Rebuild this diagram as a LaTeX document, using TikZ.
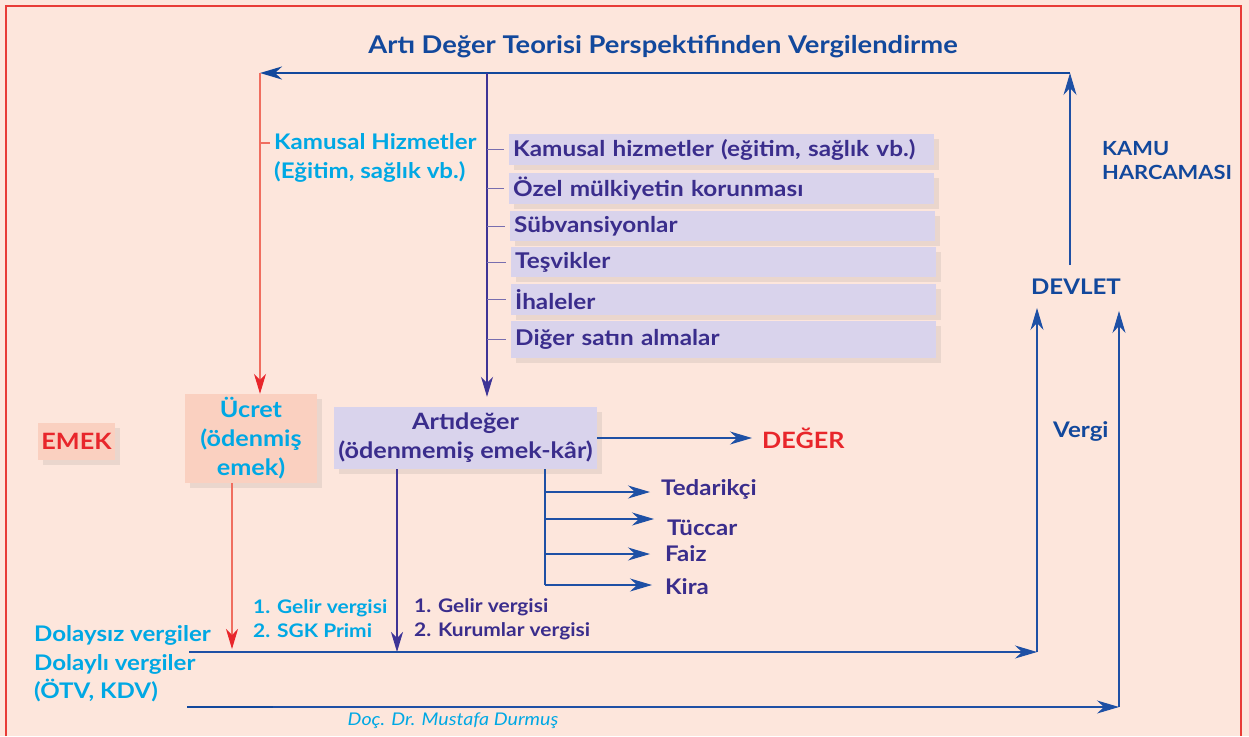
\documentclass[tikz,border=0pt]{standalone}
\usepackage{fontspec}
\setmainfont{Lato}[FakeStretch=1.12]
\usetikzlibrary{arrows.meta,shadows,calc}
\definecolor{bg}{RGB}{253,230,220}
\definecolor{frame}{RGB}{232,60,55}
\definecolor{dblue}{RGB}{18,72,156}
\definecolor{lblue}{RGB}{30,80,165}
\definecolor{cyanT}{RGB}{0,168,228}
\definecolor{purT}{RGB}{58,45,140}
\definecolor{purL}{RGB}{62,52,150}
\definecolor{tickc}{RGB}{120,110,175}
\definecolor{redT}{RGB}{232,38,43}
\definecolor{redL}{RGB}{240,110,95}
\definecolor{lav}{RGB}{217,211,236}
\definecolor{peachbox}{RGB}{250,208,192}
\begin{document}
\begin{tikzpicture}[x=1pt,y=-1pt,
  tip/.style={-{Stealth[length=22pt,width=13pt,inset=7pt]}},
  bthick/.style={draw=dblue,line width=2.4pt},
  bline/.style={draw=lblue,line width=1.1pt},
  rline/.style={draw=redL,line width=1.1pt},
  rtip/.style={-{Stealth[length=20pt,width=12pt,inset=6pt,color=redT]}},
  pline/.style={draw=purL,line width=1.1pt},
  tickline/.style={draw=tickc,line width=1pt},
  shad/.style={drop shadow={shadow xshift=5pt,shadow yshift=-5pt,opacity=0.10,fill=black!70}},
  lbl/.style={inner sep=0pt,align=left},
  f17/.style={font=\fontsize{18.7}{24}\selectfont\bfseries},
  f20/.style={font=\fontsize{21.5}{29}\selectfont\bfseries},
  f21/.style={font=\fontsize{22.5}{29}\selectfont\bfseries},
  itembox/.style={shad,fill=lav,text=purT,text width=417pt,inner xsep=4pt,inner ysep=0pt,
     anchor=west,align=left,font=\fontsize{21.7}{24}\selectfont\bfseries},
]
\useasboundingbox (0,0) rectangle (1249,736);
\fill[bg] (0,0) rectangle (1249,736);
\draw[draw=frame,line width=1.2pt] (6,736) -- (6,6) -- (1241,6) -- (1241,736);

% title
\node[lbl,text=dblue,font=\fontsize{24.4}{28}\selectfont\bfseries] (title) at (663,47) {Artı Değer Teorisi Perspektifinden Vergilendirme};

% list boxes
\node[itembox,minimum height=31pt] (b1) at (509,149.5) {Kamusal hizmetler (eğitim, sağlık vb.)};
\node[itembox,minimum height=31pt] (b2) at (509,188.5) {Özel mülkiyetin korunması};
\node[itembox,minimum height=30pt] (b3) at (510,226) {Sübvansiyonlar};
\node[itembox,minimum height=30pt] (b4) at (511,262) {Teşvikler};
\node[itembox,minimum height=31pt] (b5) at (511,299.5) {İhaleler};
\node[itembox,minimum height=37pt] (b6) at (511,339.5) {Diğer satın almalar};

% labels
\node[lbl,f20,text=cyanT,anchor=west] (khiz) at (274,157.5) {Kamusal Hizmetler\\(Eğitim, sağlık vb.)};
\node[lbl,text=dblue,anchor=west,font=\fontsize{19.5}{24}\selectfont\bfseries] (kamu) at (1102,161) {KAMU\\HARCAMASI};
\node[lbl,f20,text=dblue] (devlet) at (1076,287) {DEVLET};
\node[lbl,f20,text=dblue,anchor=west] (vergi) at (1053,431) {Vergi};

\node[shad,fill=peachbox,f21,text=redT,minimum width=77pt,minimum height=37pt,inner sep=0pt] (emek) at (76.5,441.5) {EMEK};
\node[shad,fill=peachbox,f21,text=cyanT,align=center,minimum width=132pt,minimum height=89pt,inner sep=0pt] (ucret) at (251,438.5) {Ücret\\(ödenmiş\\emek)};
\node[shad,fill=lav,f21,text=purT,align=center,minimum width=263pt,minimum height=62pt,inner sep=0pt] (arti) at (465.5,438) {Artıdeğer\\(ödenmemiş emek-kâr)};
\node[lbl,f21,text=redT,anchor=west] (deger) at (762,438) {DEĞER};

\node[lbl,f20,text=purT,anchor=west] (ted) at (661,489) {Tedarikçi};
\node[lbl,f20,text=purT,anchor=west] (tuc) at (667,528) {Tüccar};
\node[lbl,f20,text=purT,anchor=west] (faiz) at (665,554) {Faiz};
\node[lbl,f20,text=purT,anchor=west] (kira) at (665,587) {Kira};

\node[lbl,f17,text=cyanT,anchor=west] (gv1) at (253,619) {1. Gelir vergisi\\2. SGK Primi};
\node[lbl,f17,text=purT,anchor=west] (gv2) at (414,619) {1. Gelir vergisi\\2. Kurumlar vergisi};

\node[lbl,f20,text=cyanT,anchor=west] (dolaysiz) at (34,635) {Dolaysız vergiler};
\node[lbl,text=cyanT,anchor=west,font=\fontsize{21.5}{28}\selectfont\bfseries] (dolayli) at (34,678) {Dolaylı vergiler\\(ÖTV, KDV)};
\node[lbl,text=cyanT,font=\fontsize{17.5}{20}\selectfont\mdseries\itshape] (doc) at (453,721) {Doç. Dr. Mustafa Durmuş};

% coordinates
\coordinate (topR) at (1070,73);
\coordinate (topL) at (260,73);
\coordinate (topP) at (487,73);
\coordinate (ktick) at (260,143);
\coordinate (redx) at (232,0);
\coordinate (purx) at (397,0);
\coordinate (brx) at (545,0);
\coordinate (br1) at (545,492);
\coordinate (br2) at (545,519);
\coordinate (br3) at (545,554);
\coordinate (br4) at (545,585);
\coordinate (l1s) at (189,652);
\coordinate (l1e) at (1037,652);
\coordinate (l2s) at (187,707);
\coordinate (l2m) at (273,707);
\coordinate (l2e) at (1119,707);
\coordinate (devx) at (1070,265);

% connectors
\draw[bline,tip] (devx) -- (topR);
\draw[bthick,tip] (topR) -- (topL);
\draw[rline,rtip] (topL) -- (topL |- ucret.north);
\draw[rline] (ktick) -- ([xshift=-4pt]khiz.west |- ktick);
\draw[pline,-{Stealth[length=20pt,width=12pt,inset=6pt]}, shorten >=10pt] (topP) -- (topP |- arti.north);
\foreach \b in {b1,b2,b3,b4,b5,b6}{
  \draw[tickline] (topP |- \b.west) -- ([xshift=-5pt]\b.west);
}
\draw[rline,rtip,shorten >=3pt] (redx |- ucret.south) -- (redx |- l1s);
\draw[pline,-{Stealth[length=20pt,width=12pt,inset=6pt]}] (purx |- arti.south) -- (purx |- l1s);
\draw[bline,tip,shorten >=10pt] (arti.east) -- (deger.west);
\draw[bline] (brx |- arti.south) -- (br4);
\draw[bline,tip,shorten >=11pt] (br1) -- (br1 -| ted.west);
\draw[bline,tip,shorten >=13pt] (br2) -- (br2 -| tuc.west);
\draw[bline,tip,shorten >=15pt] (br3) -- (br3 -| faiz.west);
\draw[bline,tip,shorten >=13pt] (br4) -- (br4 -| kira.west);
\draw[bline,tip] (l1s) -- (l1e);
\draw[bline,tip,shorten >=13pt] (l1e) -- (l1e |- devlet.south);
\draw[bline,tip] (l2s) -- (l2e);
\draw[bthick] (l2s) -- (l2m);
\draw[bline,tip,shorten >=16pt] (l2e) -- (l2e |- devlet.south);
\end{tikzpicture}
\end{document}
